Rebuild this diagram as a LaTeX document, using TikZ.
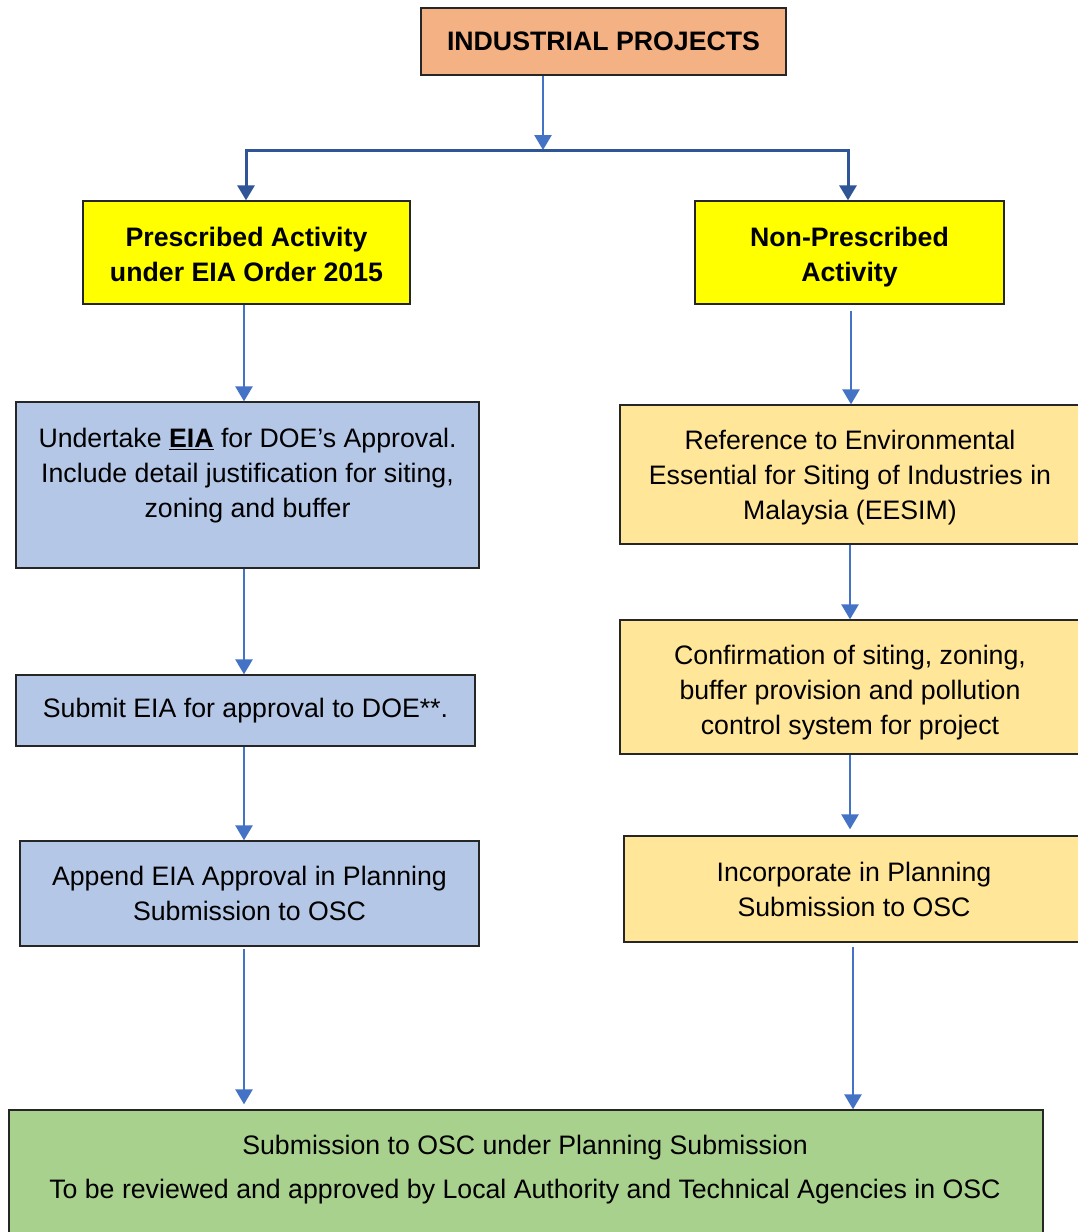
\documentclass[tikz,border=0pt]{standalone}
\usepackage{fontspec}
\setmainfont{Liberation Sans}
\usetikzlibrary{arrows.meta}
\definecolor{orangefill}{HTML}{F4B183}
\definecolor{yellowfill}{HTML}{FFFF00}
\definecolor{bluefill}{HTML}{B4C7E7}
\definecolor{beigefill}{HTML}{FFE699}
\definecolor{greenfill}{HTML}{A9D18E}
\definecolor{arrowblue}{HTML}{4472C4}
\definecolor{linkblue}{HTML}{2F5597}
\begin{document}
\begin{tikzpicture}[x=1pt,y=-1pt,
  box/.style={draw=black!85, line width=1.3pt, inner sep=0pt, align=center,
    font=\fontsize{26.7}{35}\selectfont},
  txt/.style={align=center, inner sep=0pt, font=\fontsize{26.7}{35}\selectfont},
  tip/.style={-{Triangle[width=17pt,length=15pt]}},
  flow/.style={draw=arrowblue, line width=2.6pt, tip},
  split/.style={draw=linkblue, line width=3pt}]

\clip (0,0) rectangle (1078,1232);
\fill[white] (0,0) rectangle (1078,1232);

% top
\node[box, fill=orangefill, minimum width=365, minimum height=67] (top) at (603.5,41.5)
  {\textbf{INDUSTRIAL PROJECTS}};

% second row
\node[box, fill=yellowfill, minimum width=327, minimum height=103] (pa) at (246.5,252.5) {};
\node[txt, font=\fontsize{26.7}{35}\selectfont\bfseries] (patext) at (246.5,254.5)
  {Prescribed Activity\\under EIA Order 2015};
\node[box, fill=yellowfill, minimum width=309, minimum height=103] (npa) at (849.5,252.5) {};
\node[txt, font=\fontsize{26.7}{35}\selectfont\bfseries] (npatext) at (849.5,257.5)
  {Non-Prescribed\\Activity};

% prescribed branch
\node[box, fill=bluefill, minimum width=463, minimum height=166] (eia) at (247.5,485) {};
\node[txt] (eiatext) at (247.5,476)
  {Undertake \underline{\textbf{EIA}} for DOE’s Approval.\\Include detail justification for siting,\\zoning and buffer};
\node[box, fill=bluefill, minimum width=459, minimum height=71] (submit) at (245.5,710.5)
  {Submit EIA for approval to DOE**.};
\node[box, fill=bluefill, minimum width=459, minimum height=105] (append) at (249.5,893.5)
  {Append EIA Approval in Planning\\Submission to OSC};

% non-prescribed branch
\node[box, fill=beigefill, minimum width=460, minimum height=139] (eesim) at (850,474.5) {};
\node[txt] (eesimtext) at (850,477.5)
  {Reference to Environmental\\Essential for Siting of Industries in\\Malaysia (EESIM)};
\node[box, fill=beigefill, minimum width=460, minimum height=134] (confirm) at (850,687) {};
\node[txt] (confirmtext) at (850,692.5)
  {Confirmation of siting, zoning,\\buffer provision and pollution\\control system for project};
\node[box, fill=beigefill, minimum width=460, minimum height=106] (incorp) at (854,889)
  {Incorporate in Planning\\Submission to OSC};

% bottom
\node[box, fill=greenfill, minimum width=1034, minimum height=150] (osc) at (526,1185) {};
\node[txt] (osctext) at (525,1170)
  {Submission to OSC under Planning Submission\\[9pt]To be reviewed and approved by Local Authority and Technical Agencies in OSC};

% connectors
\coordinate (junction) at (543,150);
\coordinate (jl) at (246,150);
\coordinate (jr) at (848,150);
\coordinate (lx) at (244,0);
\coordinate (rx) at (851,0);

\draw[flow] (top.south -| junction) -- (junction);
\draw[split, line join=miter, {Triangle[width=17pt,length=15pt]}-{Triangle[width=17pt,length=15pt]}]
  (pa.north -| jl) -- (jl) -- (jr) -- (npa.north -| jr);

\draw[flow] (pa.south -| lx) -- (eia.north -| lx);
\draw[flow] (eia.south -| lx) -- (submit.north -| lx);
\draw[flow] (submit.south -| lx) -- (append.north -| lx);
\draw[flow, shorten <=2pt, shorten >=5pt] (append.south -| lx) -- (osc.north -| lx);

\draw[flow, shorten <=6pt] (npa.south -| rx) -- (eesim.north -| rx);
\draw[flow] (eesim.south) -- (confirm.north);
\draw[flow, shorten >=6pt] (confirm.south) -- (confirm.south |- incorp.north);
\draw[flow, shorten <=4pt] (incorp.south -| 853,0) -- (osc.north -| 853,0);
\end{tikzpicture}
\end{document}
